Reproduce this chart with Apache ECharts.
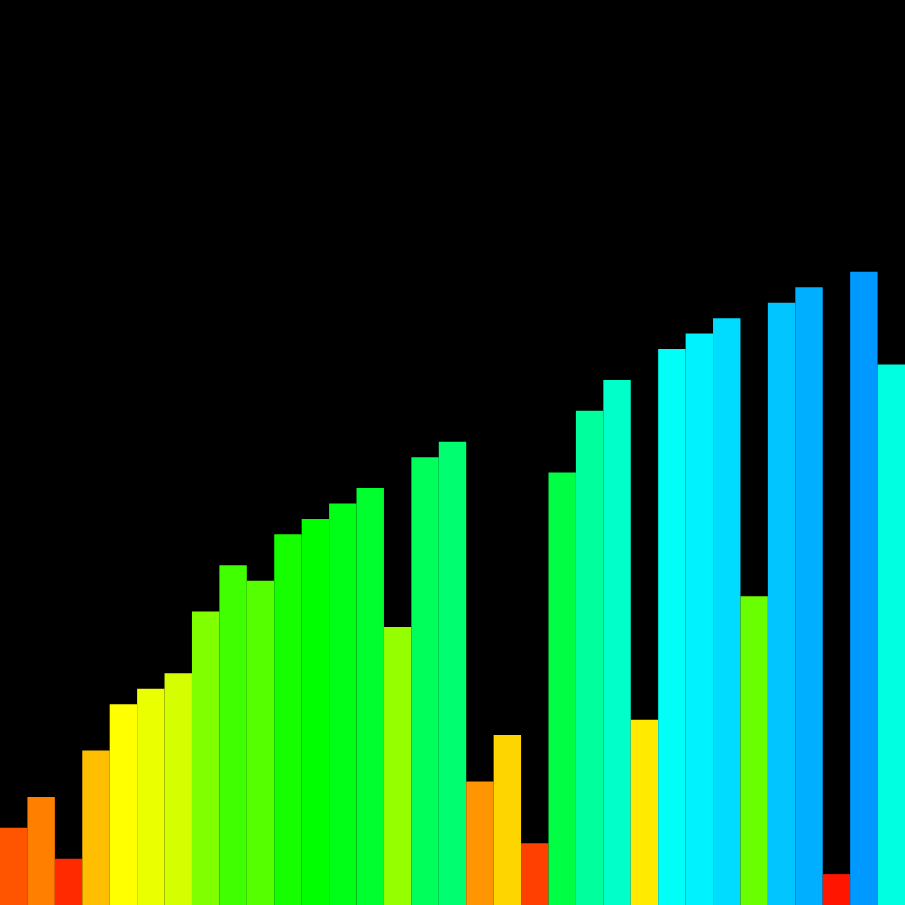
<!DOCTYPE html>
<html>
<head>
<meta charset="utf-8">
<style>
html, body { margin: 0; padding: 0; background: #000; }
#chart { width: 905px; height: 905px; }
</style>
<script src="https://cdn.jsdelivr.net/npm/echarts@6/dist/echarts.min.js"></script>
</head>
<body>
<div id="chart"></div>
<script>
// bar heights
var categories = [];
var values = [5, 7, 3, 10, 13, 14, 15, 19, 22, 21, 24, 25, 26, 27, 18, 29, 30,
              8, 11, 4, 28, 32, 34, 12, 36, 37, 38, 20, 39, 40, 2, 41, 35];
for (var i = 0; i < values.length; i++) {
    categories.push(String(i + 1));
}

var chart = echarts.init(document.getElementById('chart'));

//颜色按高度变化 (红 -> 绿 -> 蓝)
function barColor(params) {
    var v = params.value;
    var hue = v <= 24 ? (v - 1) * 5 : 115 + (v - 24) * 89 / 17;
    return 'hsl(' + hue + ',100%,50%)';
}

chart.setOption({
    backgroundColor: '#000',
    animation: false,
    grid: { left: 0, right: 0, top: 0, bottom: 0 },
    xAxis: {
        type: 'category',
        data: categories,
        show: false
    },
    yAxis: {
        type: 'value',
        min: 0,
        max: 58.6,
        show: false
    },
    series: [{
        type: 'bar',
        data: values,
        barCategoryGap: 0,
        itemStyle: { color: barColor }
    }]
});
</script>
</body>
</html>
